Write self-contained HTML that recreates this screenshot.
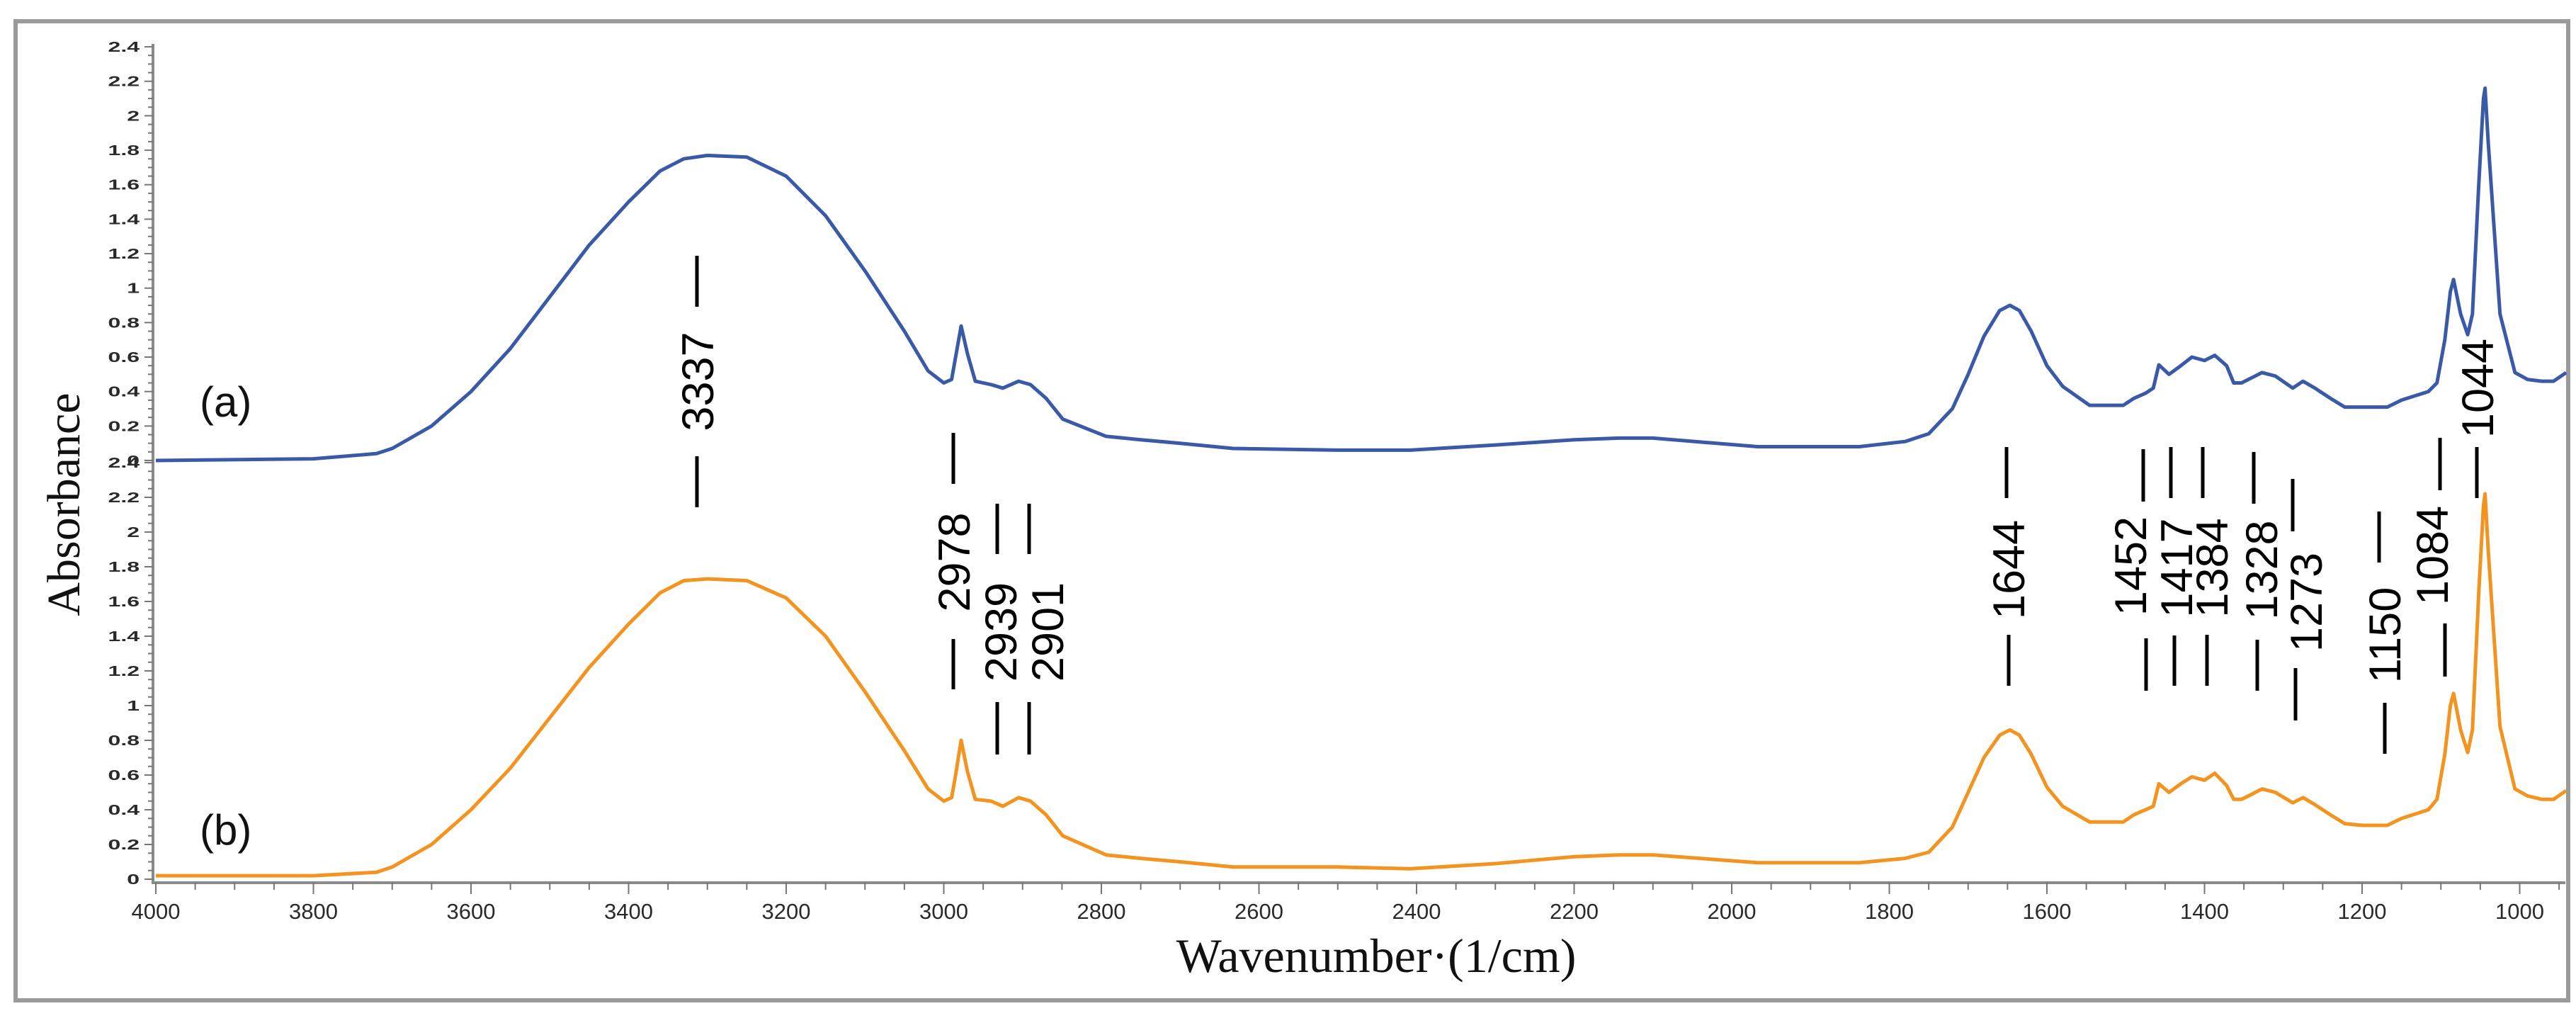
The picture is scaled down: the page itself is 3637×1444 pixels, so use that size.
<!DOCTYPE html>
<html><head><meta charset="utf-8">
<style>
html,body{margin:0;padding:0;background:#fff;}
svg{display:block;}
</style></head>
<body>
<svg id="chart" width="3637" height="1444" viewBox="0 0 3637 1444" xmlns="http://www.w3.org/2000/svg">
<rect x="22" y="30" width="3604" height="1382" fill="#fff" stroke="#9a9a9a" stroke-width="6"/>
<g id="axes"></g>
<g id="series"></g>
<g id="annos"></g>
<text transform="translate(112,712) rotate(-90)" text-anchor="middle" font-family="Liberation Serif, serif" font-size="66" fill="#111">Absorbance</text>
<text x="1943" y="1372" text-anchor="middle" font-family="Liberation Serif, serif" font-size="68" fill="#111">Wavenumber·(1/cm)</text>
<text x="282" y="588" font-family="Liberation Sans, sans-serif" font-size="60" fill="#111">(a)</text>
<text x="282" y="1192" font-family="Liberation Sans, sans-serif" font-size="60" fill="#111">(b)</text>
</svg>
<script>
const wnA=[4000,3800,3720,3700,3650,3600,3550,3500,3450,3400,3360,3330,3300,3250,3200,3150,3100,3050,3020,3000,2990,2985,2978,2970,2960,2940,2925,2905,2890,2870,2849,2794,2750,2700,2633,2500,2408,2300,2200,2143,2100,1967,1900,1838,1780,1750,1720,1700,1680,1660,1647,1635,1620,1600,1580,1546,1503,1490,1475,1465,1458,1445,1430,1416,1400,1387,1372,1363,1353,1340,1327,1310,1288,1275,1260,1240,1222,1200,1168,1150,1116,1105,1095,1088,1084,1075,1066,1060,1052,1046,1044,1040,1025,1006,990,972,957,941];
const absA=[0.0,0.01,0.04,0.07,0.2,0.4,0.65,0.95,1.25,1.5,1.68,1.75,1.77,1.76,1.65,1.42,1.1,0.75,0.52,0.45,0.47,0.6,0.78,0.62,0.46,0.44,0.42,0.46,0.44,0.36,0.24,0.14,0.12,0.1,0.07,0.06,0.06,0.09,0.12,0.13,0.13,0.08,0.08,0.08,0.11,0.155,0.3,0.5,0.72,0.87,0.9,0.87,0.75,0.55,0.43,0.32,0.32,0.36,0.39,0.42,0.555,0.5,0.55,0.6,0.58,0.61,0.55,0.45,0.45,0.48,0.51,0.49,0.42,0.46,0.42,0.36,0.31,0.31,0.31,0.35,0.40,0.45,0.7,0.98,1.05,0.85,0.73,0.85,1.6,2.1,2.16,1.85,0.85,0.51,0.47,0.46,0.46,0.51];
const wnB=[4000,3800,3720,3700,3650,3600,3550,3500,3450,3400,3360,3330,3300,3250,3200,3150,3100,3050,3020,3000,2990,2985,2978,2970,2960,2940,2925,2905,2890,2870,2849,2794,2750,2700,2633,2500,2408,2300,2200,2143,2100,1967,1900,1838,1780,1750,1720,1700,1680,1660,1647,1635,1620,1600,1580,1546,1503,1490,1475,1465,1458,1445,1430,1416,1400,1387,1372,1363,1353,1340,1327,1310,1288,1275,1260,1240,1222,1200,1168,1150,1116,1105,1095,1088,1084,1075,1066,1060,1052,1046,1044,1040,1025,1006,990,972,957,941];
const absB=[0.02,0.02,0.04,0.07,0.2,0.4,0.64,0.93,1.22,1.47,1.65,1.72,1.73,1.72,1.62,1.4,1.08,0.74,0.52,0.45,0.47,0.6,0.8,0.62,0.46,0.45,0.42,0.47,0.45,0.37,0.25,0.14,0.12,0.1,0.07,0.07,0.06,0.09,0.13,0.14,0.14,0.095,0.095,0.095,0.12,0.155,0.3,0.5,0.7,0.83,0.86,0.83,0.72,0.53,0.42,0.33,0.33,0.37,0.4,0.42,0.55,0.5,0.55,0.59,0.57,0.61,0.54,0.46,0.46,0.49,0.52,0.5,0.44,0.47,0.43,0.37,0.32,0.31,0.31,0.35,0.40,0.46,0.72,1.0,1.07,0.86,0.73,0.86,1.65,2.15,2.22,1.9,0.88,0.52,0.48,0.46,0.46,0.51];
const yTicks=["0","0.2","0.4","0.6","0.8","1","1.2","1.4","1.6","1.8","2","2.2","2.4"];
const xTicks=[4000,3800,3600,3400,3200,3000,2800,2600,2400,2200,2000,1800,1600,1400,1200,1000];
const annoLabels=["3337","2978","2939","2901","1644","1452","1417","1384","1328","1273","1150","1084","1044"];

const NS="http://www.w3.org/2000/svg";
const X0=220, PX=1.1125, XMIN=941, XMAX=4000;
function xs(w){return X0+(XMAX-w)*PX;}
function yTop(v){return 650-v*243.3;}
function yBot(v){return 1241-v*245;}
function mk(tag,attrs,parent){const e=document.createElementNS(NS,tag);for(const k in attrs)e.setAttribute(k,attrs[k]);parent.appendChild(e);return e;}
const axes=document.getElementById('axes');
// y axis line
let yl=mk('line',{x1:216,y1:62,x2:216,y2:1246,stroke:'#8a8a8a','stroke-width':4},axes);


// x axis line
let xl=mk('line',{x1:214,y1:1246,x2:3622,y2:1246,stroke:'#8a8a8a','stroke-width':4},axes);


// y ticks for both panels
[[yTop,'top'],[yBot,'bottom']].forEach(([f,p])=>{
  for(let i=0;i<=48;i++){
    const v=i*0.05, y=f(v), major=(i%4===0);
    mk('line',{x1:major?204:209,y1:y,x2:216,y2:y,stroke:'#777','stroke-width':2},axes);
  }
  yTicks.forEach((t,i)=>{
    const v=parseFloat(t);
    const tx=mk('text',{transform:`translate(197,${f(v)+7}) scale(1.6,1)`,'text-anchor':'end','font-family':'Liberation Sans, sans-serif','font-size':20,'font-weight':'bold',fill:'#2a2a2a'},axes);
    tx.textContent=t;
    
    
  });
});
// x ticks
for(let w=4000;w>=XMIN;w-=50){
  const x=xs(w), major=(w%200===0);
  mk('line',{x1:x,y1:1246,x2:x,y2:major?1262:1256,stroke:'#777','stroke-width':2},axes);
}
xTicks.forEach(w=>{
  const tx=mk('text',{x:xs(w),y:1297,'text-anchor':'middle','font-family':'Liberation Sans, sans-serif','font-size':31,fill:'#2a2a2a'},axes);
  tx.textContent=String(w);
  
  
});
// series
const ser=document.getElementById('series');
function path(wn,ab,f,color,name){
  let d=wn.map((w,i)=>(i?'L':'M')+xs(w).toFixed(1)+','+f(ab[i]).toFixed(1)).join(' ');
  const p=mk('path',{d:d,fill:'none',stroke:color,'stroke-width':5,'stroke-linejoin':'round'},ser);
  
  
}
path(wnA,absA,yTop,'#3a5aa8','spectrum-a');
path(wnB,absB,yBot,'#f39320','spectrum-b');
// annotations: [x bar top, topBar y1,y2, text cx, text y1,y2, x bar bottom, y1,y2]
const annoLayout=[
 [984,361,433,984,466,611,984,644,716],
 [1346,611,683,1346,721,866,1346,902,973],
 [1408,711,782,1412,818,966,1408,991,1065],
 [1453,711,782,1478,818,966,1453,991,1065],
 [2833,631,703,2835,732,876,2836,896,968],
 [3026,634,708,3007,722,876,3030,901,975],
 [3065,631,703,3072,730,873,3070,897,968],
 [3110,631,703,3122,730,873,3116,896,968],
 [3182,638,711,3192,731,878,3187,903,975],
 [3237,676,750,3255,778,922,3241,943,1017],
 [3359,722,794,3366,824,969,3367,992,1064],
 [3445,618,692,3433,713,855,3452,880,955],
 [null,0,0,3497,476,620,3497,631,703]
];
const an=document.getElementById('annos');
annoLabels.forEach((lab,i)=>{
  const L=annoLayout[i];
  const g=mk('g',{},an);
  
  
  if(L[0]!==null) mk('line',{x1:L[0],y1:L[1],x2:L[0],y2:L[2],stroke:'#000','stroke-width':5},g);
  const cy=(L[4]+L[5])/2;
  const t=mk('text',{transform:`translate(${L[3]+23},${cy}) rotate(-90)`,'text-anchor':'middle','font-family':'Liberation Sans, sans-serif','font-size':63,fill:'#000'},g);
  t.textContent=lab;
  mk('line',{x1:L[6],y1:L[7],x2:L[6],y2:L[8],stroke:'#000','stroke-width':5},g);
});
</script>
</body></html>
